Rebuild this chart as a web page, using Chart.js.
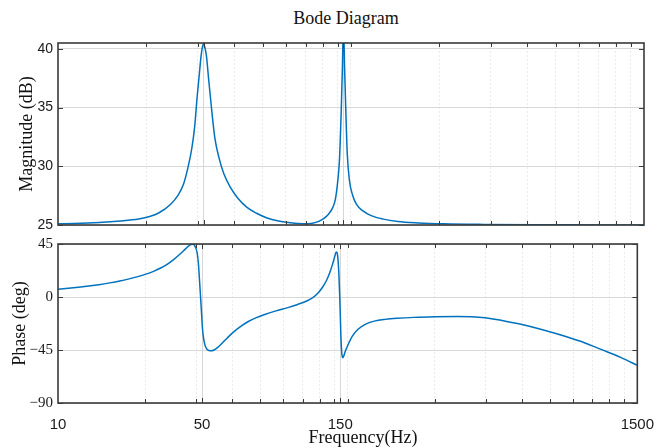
<!DOCTYPE html>
<html>
<head>
  <title>Bode Diagram</title>
  <style>
    body { margin: 0; background: #fff; }
    #wrap { position: relative; width: 667px; height: 448px; }
    #wrap canvas { position: absolute; left: 0; top: 0; }
    .lbl { position: absolute; font-family: 'Liberation Serif', 'Times New Roman', serif; font-size: 18px; color: #111; white-space: nowrap; transform: translate(-50%, -50%); }
  </style>
  <script src="https://cdn.jsdelivr.net/npm/chart.js"></script>
</head>
<body>
  <div id="wrap">
    <div class="lbl" style="left:346px; top:18px;">Bode Diagram</div>
    <canvas id="mag" width="667" height="448"></canvas>
    <canvas id="phase" width="667" height="448"></canvas>
    <div class="lbl" style="left:363px; top:437px;">Frequency(Hz)</div>
  </div>

  <script>
    // x axis runs over two decades, labels as printed on the figure
    const xMin = 15.9155;
    const xMax = 1591.55;
    const xTickValues = [15.9155, 50, 150, 1591.55];
    const xTickLabels = ['10', '50', '150', '1500'];
    const xMinorGrid = [31.83, 47.75, 63.66, 79.58, 95.49, 111.41, 127.32, 143.24, 159.15,
                        318.31, 477.46, 636.62, 795.77, 954.93, 1114.08, 1273.24, 1432.39];
    const magTicks = [25, 30, 35, 40];
    const phaseTicks = [-90, -45, 0, 45];

    // magnitude (dB)
    const magFreq = [15.92, 18, 22, 26, 30, 32.7, 35.1, 38.5, 40.8, 42.7, 44.1, 45.6, 46.6, 47.5, 48.3, 49.0, 49.5, 50,
                     50.5, 51.1, 52.0, 53.4, 54.6, 56.3, 58.5, 61.7, 65.3, 70.3, 75.8, 82.3, 90, 98.9, 105, 112.8,
                     120, 127.6, 133.1, 138, 140.8, 143.5, 145.4, 147.3, 148.7, 150, 151.4, 152.9, 154.6, 157.2,
                     160.9, 165.8, 174.8, 186.5, 205, 230, 270, 330, 450, 700, 1100, 1591.55];
    const magDb = [25.1, 25.13, 25.22, 25.35, 25.52, 25.72, 26.02, 26.75, 27.5, 28.5, 29.8, 31.6, 33.4, 35.9, 37.8, 39.4, 40.15, 40.45,
                   40.1, 39.4, 37.4, 34.5, 32.4, 30.8, 29.4, 28.2, 27.3, 26.5, 26.0, 25.6, 25.35, 25.2, 25.13, 25.1,
                   25.2, 25.5, 25.9, 26.5, 27.2, 28.8, 30.6, 34.5, 38.2, 42, 38.2, 34.5, 31.0, 28.8,
                   27.6, 26.8, 26.2, 25.8, 25.5, 25.3, 25.18, 25.1, 25.05, 25.02, 25.01, 25.0];

    // phase (deg)
    const phaseFreq = [15.92, 18, 20, 22, 24, 26, 28, 30, 32, 34, 36, 38, 40, 42, 43.5, 44.8, 45.8, 46.6, 47.3, 48.1,
                       48.6, 49.0, 49.4, 49.8, 50.2, 50.7, 51.3, 52.0, 52.8, 53.8, 55, 56.5, 58.5, 61, 64, 67.5, 72,
                       77, 82.3, 90, 98.9, 107, 115, 121, 126, 130.5, 134.5, 138, 141, 143.3, 145, 145.8, 146.7,
                       147.5, 148.5, 149.3, 150.1, 150.8, 151.6, 152.4, 153.2, 154.3, 156, 159.4, 165, 172.4, 183,
                       196.7, 215, 236, 270, 320, 380, 440, 512, 620, 760, 913, 1050, 1187, 1400, 1591.55];
    const phaseDeg = [6.5, 7.8, 9.1, 10.5, 12, 13.6, 15.4, 17.3, 19.4, 21.8, 24.6, 28, 32, 36.5, 40, 43, 44.5, 44.7, 43, 37.6,
                      28, 15, 1, -13.2, -27, -36, -41.5, -44.3, -45.4, -45.7, -45, -43, -39.5, -35, -30, -25.5, -21,
                      -17.5, -14.8, -11.8, -9, -6.3, -3.4, -0.3, 3.6, 8.5, 14, 20.5, 27.5, 33.5, 37.8, 38.2, 36.5,
                      31, 18, 3, -15, -33, -45, -50.5, -51.5, -50, -46.5, -41, -33.5, -27.6, -23.2,
                      -20.5, -19, -18.1, -17.3, -16.8, -16.6, -17, -18.8, -22.8, -28.3, -34, -39, -44.3, -51.5, -58];

    const LINE = '#0072BD';
    const serif = 'Liberation Serif';

    const pts = (xs, ys) => xs.map((x, i) => ({ x: x, y: ys[i] }));
    const isEdge = v => v === xMin || v === xMax;
    const isMajor = v => v === 50 || v === 150;

    // box round the axes, ticks pointing inwards like matlab
    const frame = {
      id: 'frame',
      afterDatasetsDraw(chart) {
        const { ctx, chartArea: a, scales } = chart;
        ctx.save();
        ctx.strokeStyle = '#3a3a3a';
        ctx.lineWidth = 1;
        ctx.beginPath();
        scales.x.ticks.forEach(t => {
          if (isEdge(t.value)) return;
          const px = Math.round(scales.x.getPixelForValue(t.value)) + 0.5;
          const len = isMajor(t.value) ? 5 : 4;
          ctx.moveTo(px, a.top); ctx.lineTo(px, a.top + len);
          ctx.moveTo(px, a.bottom); ctx.lineTo(px, a.bottom - len);
        });
        scales.y.ticks.forEach(t => {
          const py = Math.round(scales.y.getPixelForValue(t.value)) + 0.5;
          ctx.moveTo(a.left, py); ctx.lineTo(a.left + 5, py);
          ctx.moveTo(a.right, py); ctx.lineTo(a.right - 5, py);
        });
        ctx.stroke();
        ctx.lineWidth = 1.6;
        ctx.strokeRect(a.left, a.top, a.right - a.left, a.bottom - a.top);
        ctx.restore();
      }
    };

    function xScale(showLabels) {
      return {
        type: 'logarithmic',
        min: xMin,
        max: xMax,
        afterBuildTicks: s => {
          s.ticks = [xMin, ...xMinorGrid, 50, 150, xMax].sort((a, b) => a - b).map(v => ({ value: v }));
        },
        afterFit: s => { s.height = showLabels ? 45 : 0; },
        border: { display: false, dash: c => (c.tick && isMajor(c.tick.value)) ? [] : [2, 2] },
        grid: {
          drawTicks: false,
          lineWidth: 1,
          color: c => {
            if (!c.tick || isEdge(c.tick.value)) return 'rgba(0,0,0,0)';
            return isMajor(c.tick.value) ? '#d6d6d6' : '#ebebeb';
          }
        },
        ticks: {
          display: showLabels,
          autoSkip: false,
          maxRotation: 0,
          minRotation: 0,
          padding: 13,
          color: '#1a1a1a',
          font: { family: 'Liberation Sans', size: 15 },
          callback: v => {
            const i = xTickValues.indexOf(v);
            return i < 0 ? '' : xTickLabels[i];
          }
        }
      };
    }

    function yScale(min, max, tickList, title, titlePad, font, fmt) {
      return {
        min: min,
        max: max,
        afterBuildTicks: s => { s.ticks = tickList.map(v => ({ value: v })); },
        afterFit: s => { s.width = 58; },
        border: { display: false },
        grid: { drawTicks: false, color: '#d8d8d8', lineWidth: 1 },
        ticks: { padding: 5, color: '#1a1a1a', font: font, callback: fmt },
        title: {
          display: true,
          text: title,
          color: '#111',
          font: { family: serif, size: 18 },
          padding: { top: titlePad, bottom: 0 }
        }
      };
    }

    const lineSet = (label, data) => ({
      label: label,
      data: data,
      borderColor: LINE,
      borderWidth: 1.5,
      pointRadius: 0,
      fill: false,
      cubicInterpolationMode: 'monotone'
    });

    const common = {
      responsive: false,
      animation: false,
      events: [],
      plugins: { legend: { display: false }, tooltip: { enabled: false } }
    };

    new Chart(document.getElementById('mag'), {
      type: 'line',
      data: { datasets: [lineSet('Magnitude', pts(magFreq, magDb))] },
      options: Object.assign({}, common, {
        layout: { padding: { left: 0, top: 43, right: 23, bottom: 223 } },
        scales: {
          x: xScale(false),
          y: yScale(25, 40.5, magTicks, 'Magnitude (dB)', 16,
                    { family: "'Liberation Sans Narrow', 'Liberation Sans'", size: 14 },
                    v => String(v))
        }
      }),
      plugins: [frame]
    });

    new Chart(document.getElementById('phase'), {
      type: 'line',
      data: { datasets: [lineSet('Phase', pts(phaseFreq, phaseDeg))] },
      options: Object.assign({}, common, {
        layout: { padding: { left: 0, top: 244, right: 23, bottom: 0 } },
        scales: {
          x: xScale(true),
          y: yScale(-90, 45, phaseTicks, 'Phase (deg)', 9,
                    { family: serif, size: 15 },
                    v => v < 0 ? '\u2212' + (-v) : String(v))
        }
      }),
      plugins: [frame]
    });
  </script>
</body>
</html>
